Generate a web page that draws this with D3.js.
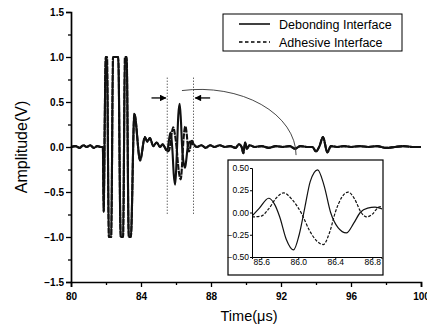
<!DOCTYPE html>
<html>
<head>
<meta charset="utf-8">
<script src="https://cdn.jsdelivr.net/npm/d3@7"></script>
<style>
  body { margin: 0; background: #fff; }
  svg { display: block; font-family: "Liberation Sans", Arial, sans-serif; }
</style>
</head>
<body>
<svg id="chart" width="427" height="330"></svg>
<script>
// burst + early noise, shared by both signals (they overlap here)
const burstTime = [80.0, 80.25, 80.5, 80.7, 80.9, 81.1, 81.3, 81.5, 81.7, 81.82, 81.87, 81.93, 81.98, 82.06, 82.16, 82.3, 82.4, 82.7, 82.84, 82.98, 83.08, 83.18, 83.3, 83.42, 83.62, 83.95, 84.22, 84.36, 84.51, 84.7, 84.9, 85.09, 85.24, 85.43];
const burstAmp = [0.0, 0.01, -0.01, 0.02, 0.0, 0.02, -0.01, 0.01, 0.0, 0.0, -0.72, 0.3, 1.0, 1.0, -1.0, -1.0, 1.0, 1.0, -1.0, -1.0, 1.0, 1.0, -1.0, -1.0, 0.37, -0.15, 0.11, 0.06, 0.1, 0.01, 0.05, 0.0, 0.03, -0.03];

// echo window (also shown in the inset)
const debondTime = [85.5, 85.58, 85.68, 85.74, 85.8, 85.87, 85.95, 86.01, 86.07, 86.13, 86.21, 86.28, 86.35, 86.43, 86.52, 86.6, 86.67, 86.75, 86.83, 86.93];
const debondAmp = [-0.04, 0.05, 0.16, 0.1, -0.05, -0.3, -0.42, -0.25, 0.05, 0.35, 0.48, 0.3, 0.0, -0.17, -0.23, -0.12, 0.0, 0.05, 0.06, 0.03];
const adhesTime = [85.5, 85.6, 85.68, 85.76, 85.84, 85.93, 86.04, 86.12, 86.2, 86.27, 86.34, 86.4, 86.47, 86.54, 86.61, 86.68, 86.74, 86.8, 86.87, 86.93];
const adhesAmp = [-0.05, -0.04, 0.04, 0.16, 0.22, 0.15, -0.02, -0.2, -0.32, -0.36, -0.22, 0.0, 0.17, 0.23, 0.15, 0.0, -0.05, -0.02, 0.06, 0.07];

// tail noise, shared
const tailTime = [87.0, 87.2, 87.45, 87.7, 87.95, 88.2, 88.5, 88.8, 89.1, 89.4, 89.6, 89.75, 89.85, 89.95, 90.05, 90.2, 90.5, 90.9, 91.3, 91.7, 92.1, 92.5, 92.8, 93.1, 93.5, 93.8, 94.0, 94.2, 94.4, 94.65, 94.85, 95.2, 95.6, 96.0, 96.5, 97.0, 97.5, 98.0, 98.5, 99.0, 99.5, 100.0];
const tailAmp = [0.03, 0.0, 0.02, -0.01, 0.02, 0.0, 0.02, 0.0, 0.01, -0.01, 0.03, 0.0, -0.07, 0.05, -0.02, 0.02, 0.0, 0.01, -0.01, 0.01, 0.0, 0.01, -0.02, 0.01, 0.0, 0.0, -0.05, 0.01, 0.11, -0.06, 0.01, 0.0, 0.01, 0.0, 0.01, 0.0, 0.01, -0.01, 0.0, 0.01, 0.0, 0.0];

const xTicks = [80, 84, 88, 92, 96, 100];
const yTicks = [-1.5, -1.0, -0.5, 0.0, 0.5, 1.0, 1.5];
const insetXTicks = [85.6, 86.0, 86.4, 86.8];
const insetYTicks = [-0.5, -0.25, 0, 0.25, 0.5];
const seriesNames = ["Debonding Interface", "Adhesive Interface"];

const zip = (t, v) => t.map((d, i) => ({ t: d, v: v[i] }));
const debondWin = zip(debondTime, debondAmp);
const adhesWin = zip(adhesTime, adhesAmp);
const common0 = zip(burstTime, burstAmp);
const common1 = zip(tailTime, tailAmp);
const debondAll = common0.concat(debondWin, common1);
const adhesAll = common0.concat(adhesWin, common1);

const svg = d3.select("#chart");
const x = d3.scaleLinear().domain([80, 100]).range([71, 421]);
const y = d3.scaleLinear().domain([-1.5, 1.5]).range([282, 12]);

const line = d3.line().x(d => x(d.t)).y(d => y(d.v)).curve(d3.curveMonotoneX);

// main traces
svg.append("path").datum(adhesAll).attr("d", line)
  .attr("fill", "none").attr("stroke", "#111").attr("stroke-width", 2.1)
  .attr("stroke-dasharray", "6,1");
svg.append("path").datum(debondAll).attr("d", line)
  .attr("fill", "none").attr("stroke", "#111").attr("stroke-width", 2.1);

// axes
const xAxis = svg.append("g").attr("transform", `translate(0,${y(-1.5)})`)
  .call(d3.axisBottom(x).tickValues(xTicks).tickSize(5).tickFormat(d3.format("d")));
svg.append("g").attr("transform", `translate(0,${y(-1.5)})`)
  .call(d3.axisBottom(x).tickValues([82, 86, 90, 94, 98]).tickSize(3).tickFormat(""))
  .select(".domain").remove();
const yAxis = svg.append("g").attr("transform", `translate(${x(80)},0)`)
  .call(d3.axisLeft(y).tickValues(yTicks).tickSize(5).tickFormat(d3.format(".1f")));
svg.append("g").attr("transform", `translate(${x(80)},0)`)
  .call(d3.axisLeft(y).tickValues([-1.25, -0.75, -0.25, 0.25, 0.75, 1.25]).tickSize(3).tickFormat(""))
  .select(".domain").remove();

svg.selectAll(".domain").attr("stroke", "#000").attr("stroke-width", 1.7);
svg.selectAll(".tick line").attr("stroke", "#000").attr("stroke-width", 1.3);
xAxis.selectAll("text").attr("font-size", 10).attr("font-weight", "bold").attr("fill", "#000").attr("dy", "0.95em");
yAxis.selectAll("text").attr("font-size", 10).attr("font-weight", "bold").attr("fill", "#000").attr("x", -7);
xAxis.selectAll("text").style("font-family", "Liberation Sans");
yAxis.selectAll("text").style("font-family", "Liberation Sans");

// axis titles
svg.append("text").attr("x", 249).attr("y", 321).attr("text-anchor", "middle")
  .attr("font-size", 14.5).text("Time(\u03bcs)");
svg.append("text").attr("transform", `translate(27,${(y(1.5) + y(-1.5)) / 2}) rotate(-90)`)
  .attr("text-anchor", "middle").attr("font-size", 16).text("Amplitude(V)");

// window markers
[85.5, 87.0].forEach(t => {
  svg.append("line").attr("x1", x(t)).attr("x2", x(t)).attr("y1", y(0.77)).attr("y2", y(-0.76))
    .attr("stroke", "#222").attr("stroke-width", 1).attr("stroke-dasharray", "1,2");
});
const defs = svg.append("defs");
defs.append("marker").attr("id", "head").attr("viewBox", "0 0 10 10")
  .attr("refX", 9).attr("refY", 5).attr("markerWidth", 6).attr("markerHeight", 5)
  .attr("orient", "auto-start-reverse")
  .append("path").attr("d", "M0,0L10,5L0,10z").attr("fill", "#000");
svg.append("line").attr("x1", x(84.6)).attr("x2", x(85.42)).attr("y1", y(0.545)).attr("y2", y(0.545))
  .attr("stroke", "#000").attr("stroke-width", 1.3).attr("marker-end", "url(#head)");
svg.append("line").attr("x1", x(87.95)).attr("x2", x(87.1)).attr("y1", y(0.545)).attr("y2", y(0.545))
  .attr("stroke", "#000").attr("stroke-width", 1.3).attr("marker-end", "url(#head)");

// callout arc to inset
const arcCx = 87.37, arcCy = -0.09, arcRx = 5.49, arcRy = 0.73;
const rxPx = x(arcCx + arcRx) - x(arcCx), ryPx = y(arcCy) - y(arcCy + arcRy);
const startX = x(86.34), startY = y(arcCy) - ryPx * Math.sqrt(1 - Math.pow((x(86.34) - x(arcCx)) / rxPx, 2));
svg.append("path")
  .attr("d", `M${startX},${startY}A${rxPx},${ryPx} 0 0 1 ${x(arcCx + arcRx)},${y(arcCy)}`)
  .attr("fill", "none").attr("stroke", "#333").attr("stroke-width", 0.9);

// legend
const legend = svg.append("g");
legend.append("rect").attr("x", 223).attr("y", 14).attr("width", 179).attr("height", 37)
  .attr("fill", "#fff").attr("stroke", "#000").attr("stroke-width", 1);
seriesNames.forEach((name, i) => {
  const ly = 24 + i * 18;
  legend.append("line").attr("x1", 239).attr("x2", 270).attr("y1", ly).attr("y2", ly)
    .attr("stroke", "#000").attr("stroke-width", 1.5)
    .attr("stroke-dasharray", i === 1 ? "3.5,2.5" : null);
  legend.append("text").attr("x", 279).attr("y", ly + 4.5).attr("font-size", 12.5).text(name);
});

// inset
const inset = svg.append("g");
inset.append("rect").attr("x", 228).attr("y", 160).attr("width", 155).attr("height", 115)
  .attr("fill", "#fff").attr("stroke", "#000").attr("stroke-width", 1.2);
const ix = d3.scaleLinear().domain([85.5, 86.9]).range([252, 381.5]);
const iy = d3.scaleLinear().domain([-0.5, 0.5]).range([257, 168]);
defs.append("clipPath").attr("id", "insetClip").append("rect")
  .attr("x", 252).attr("y", 161).attr("width", 130).attr("height", 96);
const iline = d3.line().x(d => ix(d.t)).y(d => iy(d.v)).curve(d3.curveMonotoneX);
const ig = inset.append("g").attr("clip-path", "url(#insetClip)");
ig.append("path").datum(debondWin).attr("d", iline)
  .attr("fill", "none").attr("stroke", "#111").attr("stroke-width", 1.2);
ig.append("path").datum(adhesWin).attr("d", iline)
  .attr("fill", "none").attr("stroke", "#111").attr("stroke-width", 1.2).attr("stroke-dasharray", "3,1.5");

const ixAxis = inset.append("g").attr("transform", `translate(0,${iy(-0.5)})`)
  .call(d3.axisBottom(ix).tickValues(insetXTicks).tickSize(2).tickFormat(d3.format(".1f")));
const iyAxis = inset.append("g").attr("transform", `translate(${ix(85.5)},0)`)
  .call(d3.axisLeft(iy).tickValues(insetYTicks).tickSize(2).tickFormat(d3.format(".2f")));
inset.selectAll(".domain").attr("stroke", "#000").attr("stroke-width", 1);
inset.selectAll(".tick line").attr("stroke", "#000");
ixAxis.selectAll("text").attr("font-size", 8.5).attr("fill", "#000").attr("dy", "0.7em").attr("y", 2);
iyAxis.selectAll("text").attr("font-size", 8.5).attr("fill", "#000").attr("x", -3);
inset.selectAll("text").style("font-family", "Liberation Sans");
</script>
</body>
</html>
